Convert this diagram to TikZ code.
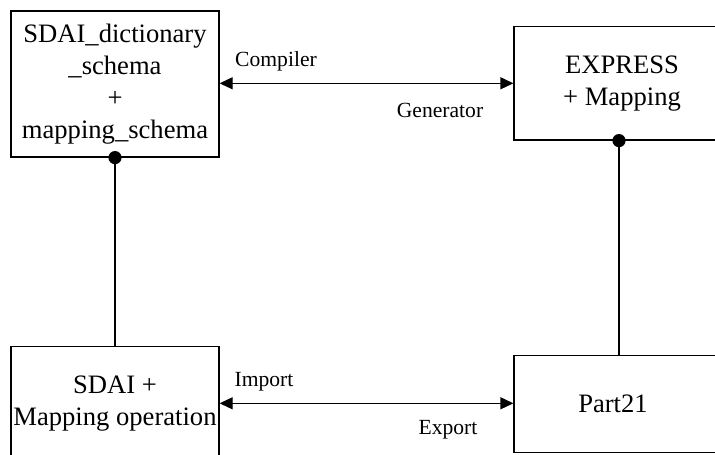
\documentclass[tikz,border=0pt]{standalone}
\usepackage{fontspec}
\setmainfont{Liberation Serif}
\usetikzlibrary{arrows.meta}
\begin{document}
\begin{tikzpicture}[x=0.5pt,y=-0.5pt,
  block/.style={draw, line width=0.6pt, inner sep=0pt, align=center,
    font=\fontsize{13.3pt}{16pt}\selectfont},
  tag/.style={inner sep=0pt, font=\fontsize{10.8pt}{13pt}\selectfont},
  link/.style={line width=0.6pt},
  biarrow/.style={link, {Triangle[length=6.5pt,width=6pt]}-{Triangle[length=6.5pt,width=6pt]}},
  dot/.style={fill=black}]
  \useasboundingbox (0,0) rectangle (715,454);
  \clip (0,0) rectangle (715,454);

  % four blocks
  \node[block, minimum width=104pt, minimum height=73pt] (dict) at (115,84)
    {SDAI\_dictionary\\\_schema\\+\\mapping\_schema};
  \node[block, minimum width=108pt, minimum height=56.7pt] (expr) at (622,83.3)
    {EXPRESS\\+ Mapping};
  \node[block, minimum width=104pt, minimum height=56.7pt] (sdai) at (115,403.3)
    {SDAI +\\Mapping operation};
  \node[block, minimum width=108pt, minimum height=48.8pt] (p21) at (622,403.9)
    {\kern-4.5pt Part21\kern4.5pt};

  % horizontal exchanges
  \draw[biarrow] (dict.east |- expr.west) -- (expr.west);
  \draw[biarrow] (sdai.east) -- (sdai.east -| p21.west);

  % vertical links with dots
  \coordinate (exprfoot) at ([xshift=-1.5pt]expr.south);
  \draw[link] (dict.south) -- (dict.south |- sdai.north);
  \fill[dot] (dict.south) circle[radius=3.3pt];
  \draw[link] (exprfoot) -- (exprfoot |- p21.north);
  \fill[dot] (exprfoot) circle[radius=3.3pt];

  % labels
  \node[tag] (compiler) at (276,61) {Compiler};
  \node[tag] (generator) at (440,110) {Generator};
  \node[tag] (import) at (264,382) {Import};
  \node[tag] (export) at (448,430) {Export};
\end{tikzpicture}
\end{document}
